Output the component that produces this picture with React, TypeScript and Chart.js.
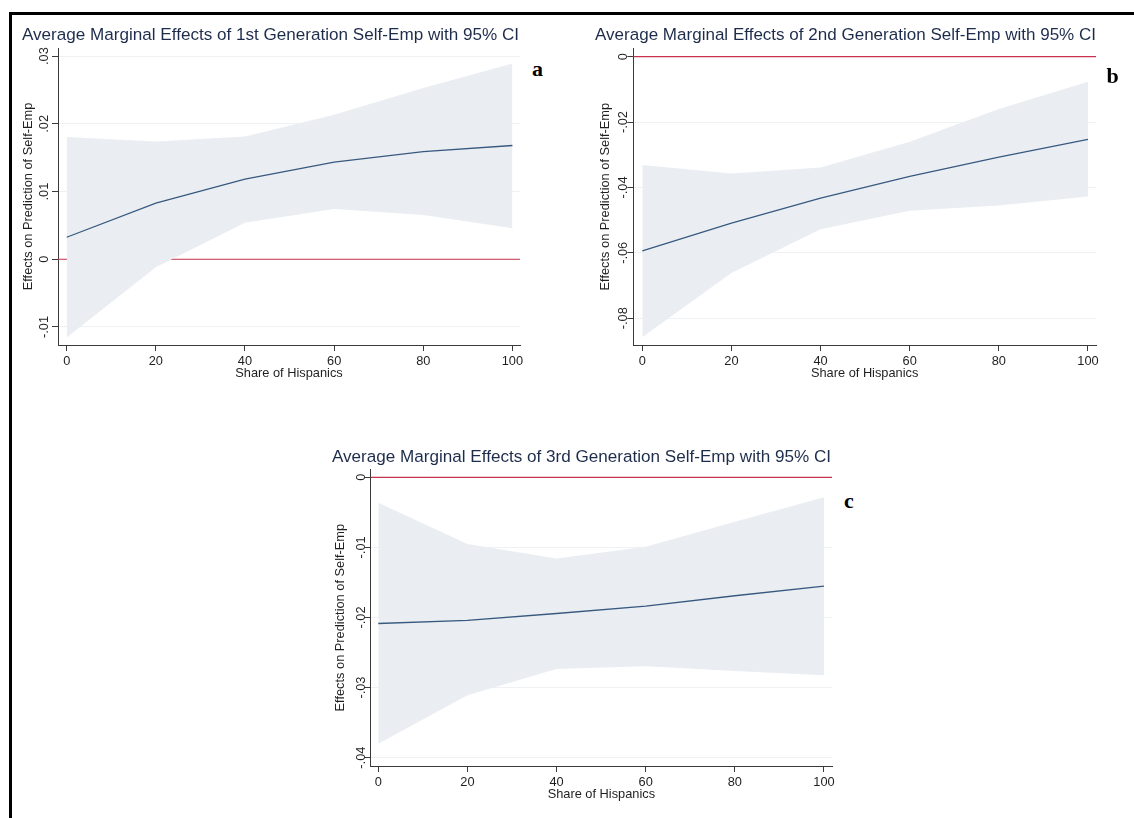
import React, { useEffect, useRef } from 'react';
import { Chart, registerables } from 'chart.js';

Chart.register(...registerables);

// ---------------- data ----------------
const shareOfHispanics = [0, 20, 40, 60, 80, 100];
const xTickValues = [0, 20, 40, 60, 80, 100];

const gen1Mean = [0.00325, 0.00828, 0.01183, 0.01435, 0.0159, 0.0168];
const gen1Upper = [0.01805, 0.0174, 0.01814, 0.02135, 0.0253, 0.0289];
const gen1Lower = [-0.01154, -0.00118, 0.00541, 0.00744, 0.00655, 0.00459];
const gen1YTicks = [-0.01, 0, 0.01, 0.02, 0.03];
const gen1YLabels = ['-.01', '0', '.01', '.02', '.03'];

const gen2Mean = [-0.0594, -0.0509, -0.0433, -0.0366, -0.0307, -0.0253];
const gen2Upper = [-0.0331, -0.0357, -0.0339, -0.026, -0.016, -0.00765];
const gen2Lower = [-0.0858, -0.0662, -0.0528, -0.0471, -0.0455, -0.0428];
const gen2YTicks = [-0.08, -0.06, -0.04, -0.02, 0];
const gen2YLabels = ['-.08', '-.06', '-.04', '-.02', '0'];

const gen3Mean = [-0.02086, -0.0204, -0.01943, -0.01839, -0.0169, -0.01553];
const gen3Upper = [-0.00362, -0.00953, -0.01157, -0.0099, -0.00634, -0.00286];
const gen3Lower = [-0.038, -0.0311, -0.02734, -0.02696, -0.02763, -0.02824];
const gen3YTicks = [-0.04, -0.03, -0.02, -0.01, 0];
const gen3YLabels = ['-.04', '-.03', '-.02', '-.01', '0'];

const panelTitles = [
  'Average Marginal Effects of 1st Generation Self-Emp with 95% CI',
  'Average Marginal Effects of 2nd Generation Self-Emp with 95% CI',
  'Average Marginal Effects of 3rd Generation Self-Emp with 95% CI',
];
const yAxisTitle = 'Effects on Prediction of Self-Emp';
const xAxisTitle = 'Share of Hispanics';
const panelLetters = ['a', 'b', 'c'];

// ---------------- style ----------------
const FONT = '"Liberation Sans", Arial, Helvetica, sans-serif';
const TITLE_COLOR = '#1e2c4c';
const TEXT_COLOR = '#1f1f1f';
const AXIS_COLOR = '#3a3a3a';
const GRID_COLOR = '#eef2f4';
const AREA_COLOR = '#eaeef2';
const MEAN_COLOR = '#38597f';
const ZERO_COLOR = '#c8324f';
const TITLE_SIZE = 17.1;
const AXIS_SIZE = 12.8;

type Panel = {
  title: string;
  mean: number[];
  upper: number[];
  lower: number[];
  yTicks: number[];
  yLabels: string[];
  yMin: number;
  yMax: number;
  xMin: number;
  xMax: number;
  titleCenter: number;
  top: number;
  height: number;
  plotLeft: number;
  plotRight: number;
  plotTop: number;
  plotBottom: number;
  titleBaseline: number;
  yTitleX: number;
  yLabelBaseX: number;
  xTitleY: number;
};

const panels: Panel[] = [
  {
    title: panelTitles[0], mean: gen1Mean, upper: gen1Upper, lower: gen1Lower,
    yTicks: gen1YTicks, yLabels: gen1YLabels, yMin: -0.01266, yMax: 0.0312, xMin: -1.95, xMax: 101.7,
    titleCenter: 270.5, top: 16, height: 380,
    plotLeft: 58, plotRight: 520, plotTop: 48, plotBottom: 345,
    titleBaseline: 41, yTitleX: 28.3, yLabelBaseX: 48.3, xTitleY: 373.3,
  },
  {
    title: panelTitles[1], mean: gen2Mean, upper: gen2Upper, lower: gen2Lower,
    yTicks: gen2YTicks, yLabels: gen2YLabels, yMin: -0.0882, yMax: 0.00257, xMin: -2.02, xMax: 101.8,
    titleCenter: 845.5, top: 16, height: 380,
    plotLeft: 633.3, plotRight: 1096, plotTop: 48.3, plotBottom: 345,
    titleBaseline: 41, yTitleX: 605, yLabelBaseX: 626.7, xTitleY: 373.3,
  },
  {
    title: panelTitles[2], mean: gen3Mean, upper: gen3Upper, lower: gen3Lower,
    yTicks: gen3YTicks, yLabels: gen3YLabels, yMin: -0.04119, yMax: 0.00114, xMin: -1.7, xMax: 101.8,
    titleCenter: 581.5, top: 438, height: 380,
    plotLeft: 370.7, plotRight: 832, plotTop: 469.3, plotBottom: 766,
    titleBaseline: 462.7, yTitleX: 340, yLabelBaseX: 365.3, xTitleY: 794,
  },
];

function canvasBox(p: Panel) {
  // title box spans [canvasLeft, plotRight]; centre it on the title centre
  const left = Math.round(2 * p.titleCenter - p.plotRight);
  const width = Math.ceil(p.plotRight - left + 12);
  return { left, width };
}

function buildChart(canvas: HTMLCanvasElement, p: Panel) {
  const { left, width } = canvasBox(p);
  const relPlotLeft = p.plotLeft - left;
  const relRightPad = left + width - p.plotRight;
  const relPlotTop = p.plotTop - p.top;
  const relPlotBottom = p.plotBottom - p.top;
  const titleLH = TITLE_SIZE * 1.2;
  const titleMid = p.titleBaseline - p.top - 0.31 * TITLE_SIZE;
  const titlePadTop = titleMid - titleLH / 2;
  const titlePadBottom = relPlotTop - titlePadTop - titleLH;
  const axisLH = AXIS_SIZE * 1.2;
  const yTitlePadTop = p.yTitleX - left - axisLH / 2;
  const xTitlePadBottom = p.height - (p.xTitleY - p.top) - axisLH / 2;

  const rotatedYLabels = {
    id: 'rotatedYLabels',
    afterDraw(chart: any) {
      const s = chart.scales.y;
      const ctx = chart.ctx as CanvasRenderingContext2D;
      const x = p.yLabelBaseX - left;
      ctx.save();
      ctx.font = `${AXIS_SIZE}px ${FONT}`;
      ctx.fillStyle = TEXT_COLOR;
      ctx.textAlign = 'center';
      ctx.textBaseline = 'alphabetic';
      p.yTicks.forEach((v, i) => {
        const y = s.getPixelForValue(v);
        ctx.save();
        ctx.translate(x, y);
        ctx.rotate(-Math.PI / 2);
        ctx.fillText(p.yLabels[i], 0, 0);
        ctx.restore();
      });
      ctx.restore();
    },
  };

  return new Chart(canvas, {
    type: 'line',
    data: {
      datasets: [
        {
          label: 'Average marginal effect',
          data: shareOfHispanics.map((x, i) => ({ x, y: p.mean[i] })),
          borderColor: MEAN_COLOR,
          borderWidth: 1.3,
          pointRadius: 0,
          fill: false,
          tension: 0,
          order: 0,
        },
        {
          label: 'Upper 95% CI',
          data: shareOfHispanics.map((x, i) => ({ x, y: p.upper[i] })),
          borderColor: 'rgba(0,0,0,0)',
          borderWidth: 0,
          pointRadius: 0,
          backgroundColor: AREA_COLOR,
          fill: '+1',
          tension: 0,
          order: 1,
        },
        {
          label: 'Lower 95% CI',
          data: shareOfHispanics.map((x, i) => ({ x, y: p.lower[i] })),
          borderColor: 'rgba(0,0,0,0)',
          borderWidth: 0,
          pointRadius: 0,
          fill: false,
          tension: 0,
          order: 2,
        },
        {
          label: 'Zero',
          data: [
            { x: p.xMin, y: 0 },
            { x: p.xMax, y: 0 },
          ],
          borderColor: ZERO_COLOR,
          borderWidth: 1.2,
          pointRadius: 0,
          fill: false,
          order: 3,
        },
      ],
    },
    options: {
      responsive: false,
      animation: false,
      devicePixelRatio: 1,
      layout: { padding: { left: 0, right: relRightPad, top: 0, bottom: 0 }, autoPadding: false },
      plugins: {
        legend: { display: false },
        tooltip: { enabled: false },
        title: {
          display: true,
          text: p.title,
          color: TITLE_COLOR,
          font: { family: FONT, size: TITLE_SIZE, weight: 'normal' },
          padding: { top: titlePadTop, bottom: titlePadBottom },
          align: 'center',
        },
      },
      scales: {
        x: {
          type: 'linear',
          min: p.xMin,
          max: p.xMax,
          afterBuildTicks: (s: any) => {
            s.ticks = xTickValues.map((v) => ({ value: v }));
          },
          afterFit: (s: any) => {
            s.height = p.height - relPlotBottom;
          },
          grid: { drawOnChartArea: false, drawTicks: true, tickLength: 6, tickColor: AXIS_COLOR, tickWidth: 1 },
          border: { display: true, color: AXIS_COLOR, width: 1 },
          ticks: {
            color: TEXT_COLOR,
            font: { family: FONT, size: AXIS_SIZE },
            padding: 3,
            minRotation: 0,
            maxRotation: 0,
            autoSkip: false,
            callback: (v: any) => String(v),
          },
          title: {
            display: true,
            text: xAxisTitle,
            color: TEXT_COLOR,
            font: { family: FONT, size: AXIS_SIZE },
            padding: { top: 0, bottom: xTitlePadBottom },
          },
        },
        y: {
          type: 'linear',
          min: p.yMin,
          max: p.yMax,
          afterBuildTicks: (s: any) => {
            s.ticks = p.yTicks.map((v) => ({ value: v }));
          },
          afterFit: (s: any) => {
            s.width = relPlotLeft;
          },
          grid: { color: GRID_COLOR, lineWidth: 1, drawTicks: true, tickLength: 6, tickColor: AXIS_COLOR, tickWidth: 1 },
          border: { display: true, color: AXIS_COLOR, width: 1 },
          ticks: { display: false },
          title: {
            display: true,
            text: yAxisTitle,
            color: TEXT_COLOR,
            font: { family: FONT, size: AXIS_SIZE },
            padding: { top: yTitlePadTop, bottom: 0 },
          },
        },
      },
    } as any,
    plugins: [rotatedYLabels],
  });
}

function PanelChart({ p }: { p: Panel }) {
  const ref = useRef<HTMLCanvasElement | null>(null);
  const { left, width } = canvasBox(p);
  useEffect(() => {
    if (!ref.current) return;
    const chart = buildChart(ref.current, p);
    return () => chart.destroy();
  }, [p]);
  return (
    <canvas
      ref={ref}
      width={width}
      height={p.height}
      style={{ position: 'absolute', left, top: p.top, width, height: p.height }}
    />
  );
}

const letterPositions = [
  { left: 532, baseline: 76 },
  { left: 1106.5, baseline: 83.3 },
  { left: 844, baseline: 508.3 },
];

export default function App() {
  return (
    <div
      style={{
        position: 'fixed',
        left: 0,
        top: 0,
        width: 1134,
        height: 818,
        background: '#ffffff',
        overflow: 'hidden',
      }}
    >
      <div
        style={{
          position: 'absolute',
          left: 9,
          top: 12,
          width: 1200,
          height: 900,
          borderTop: '3px solid #000',
          borderLeft: '3px solid #000',
          boxSizing: 'border-box',
        }}
      />
      {panels.map((p, i) => (
        <PanelChart key={i} p={p} />
      ))}
      {panelLetters.map((l, i) => (
        <div
          key={l}
          style={{
            position: 'absolute',
            left: letterPositions[i].left,
            top: letterPositions[i].baseline - 18.4,
            font: 'bold 22px "Liberation Serif", "Times New Roman", serif',
            lineHeight: '22px',
            color: '#000',
          }}
        >
          {l}
        </div>
      ))}
    </div>
  );
}
